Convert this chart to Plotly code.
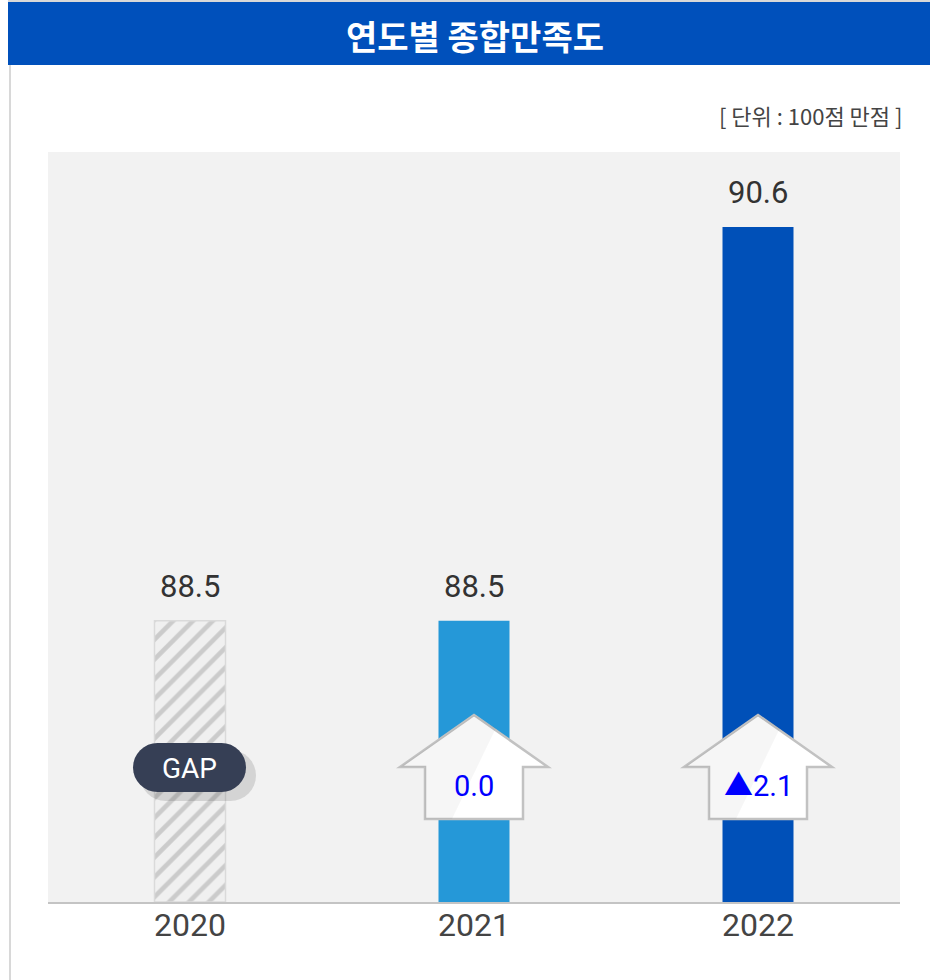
import math
import plotly.graph_objects as go

years = ["2020", "2021", "2022"]
scores = [88.5, 88.5, 90.6]
changes = [None, "0.0", "▲2.1"]
bar_colors = ["#f0f0f0", "#2598d8", "#0050b8"]

W, H = 930, 980
L, R, T, B = 48, 30, 152, 78
PW = W - L - R
PH = H - T - B
Y0, Y1 = 87, 91
x_idx = list(range(len(years)))
NUMFONT = "Roboto, Noto Sans CJK KR"

def px2x(px):
    return -0.5 + (px - L) / PW * 3

def py2y(py):
    return Y0 + (T + PH - py) / PH * (Y1 - Y0)

def dx(p):
    return p / PW * 3

def dy(p):
    return p / PH * (Y1 - Y0)

def ppx(px):
    return (px - L) / PW

def ppy(py):
    return (T + PH - py) / PH

fig = go.Figure()

# 2020 hatched bar (own trace so pattern colours are scalar)
fig.add_trace(go.Bar(
    x=x_idx[:1], y=[scores[0] - Y0], base=Y0, width=0.25,
    marker=dict(
        color=bar_colors[0],
        line=dict(color="#dadada", width=1.5),
        pattern=dict(shape="/", fgcolor="#cbcbcb", bgcolor="#f0f0f0",
                     fgopacity=1, size=14, solidity=0.33),
    ),
    hoverinfo="skip", showlegend=False,
))
# 2021, 2022 solid bars
fig.add_trace(go.Bar(
    x=x_idx[1:], y=[s - Y0 for s in scores[1:]], base=Y0, width=0.25,
    marker=dict(color=bar_colors[1:], line=dict(width=0)),
    hoverinfo="skip", showlegend=False,
))

shapes = []
annotations = []

# value labels above bars
for i, s in enumerate(scores):
    annotations.append(dict(x=i, y=s, xref="x", yref="y", text=f"{s:.1f}",
                            showarrow=False, yanchor="bottom", yshift=14,
                            font=dict(size=31, color="#333333", family=NUMFONT)))

# year labels under axis
for i, yr in enumerate(years):
    annotations.append(dict(x=i, y=ppy(925), xref="x", yref="paper", text=yr,
                            showarrow=False, yanchor="middle",
                            font=dict(size=32, color="#444444", family=NUMFONT)))

# title bar
shapes.append(dict(type="rect", xref="paper", yref="paper",
                   x0=ppx(8), x1=ppx(930), y0=ppy(65), y1=ppy(2),
                   fillcolor="#0050bb", line=dict(width=0), layer="above"))
shapes.append(dict(type="line", xref="paper", yref="paper",
                   x0=ppx(8), x1=ppx(930), y0=ppy(1), y1=ppy(1),
                   line=dict(color="#d8d8d8", width=2)))
# left border
shapes.append(dict(type="line", xref="paper", yref="paper",
                   x0=ppx(10), x1=ppx(10), y0=ppy(980), y1=ppy(65),
                   line=dict(color="#d8d8d8", width=2)))

# arrows (house shape) for change boxes
for i, ch in enumerate(changes):
    if ch is None:
        continue
    cx = i
    tip = py2y(715)
    sh = py2y(767)
    bot = py2y(819)
    lw, bw = dx(74), dx(49)
    path = (f"M {cx} {tip} L {cx + lw} {sh} L {cx + bw} {sh} L {cx + bw} {bot} "
            f"L {cx - bw} {bot} L {cx - bw} {sh} L {cx - lw} {sh} Z")
    shapes.append(dict(type="path", xref="x", yref="y", path=path,
                       fillcolor="#ffffff", line=dict(color="#c2c2c2", width=2.5),
                       layer="above"))
    gl = (f"M {cx} {tip} L {cx + dx(22)} {tip - dy(13)} L {cx - dx(22)} {bot} "
          f"L {cx - bw} {bot} L {cx - bw} {sh} L {cx - lw} {sh} Z")
    shapes.append(dict(type="path", xref="x", yref="y", path=gl,
                       fillcolor="rgba(0,0,0,0.035)", line=dict(width=0),
                       layer="above"))
    annotations.append(dict(x=cx, y=py2y(786), xref="x", yref="y", text=ch,
                            showarrow=False, yanchor="middle",
                            font=dict(size=29, color="#0000ff", family=NUMFONT)))

# GAP pill with shadow
def pill(x0p, x1p, y0p, y1p, n=16):
    r = (y1p - y0p) / 2
    cyp = (y0p + y1p) / 2
    pts = []
    for k in range(n + 1):
        a = -math.pi / 2 + math.pi * k / n
        pts.append((x1p - r + r * math.cos(a), cyp + r * math.sin(a)))
    for k in range(n + 1):
        a = math.pi / 2 + math.pi * k / n
        pts.append((x0p + r + r * math.cos(a), cyp + r * math.sin(a)))
    d = "M " + " L ".join(f"{px2x(a)} {py2y(b)}" for a, b in pts) + " Z"
    return d

shapes.append(dict(type="path", xref="x", yref="y", path=pill(140, 256, 750, 801),
                   fillcolor="rgba(0,0,0,0.12)", line=dict(width=0), layer="above"))
shapes.append(dict(type="path", xref="x", yref="y", path=pill(133, 246, 743, 792),
                   fillcolor="#363f55", line=dict(width=0), layer="above"))
annotations.append(dict(x=px2x(189.5), y=py2y(768), xref="x", yref="y", text="GAP",
                        showarrow=False, yanchor="middle",
                        font=dict(size=28, color="#ffffff", family=NUMFONT)))

# title text
annotations.append(dict(xref="paper", yref="paper", x=ppx(475), y=ppy(35),
                        xanchor="center", yanchor="middle",
                        text="<b>연도별 종합만족도</b>", showarrow=False,
                        font=dict(size=34, color="#ffffff", family="Noto Sans CJK KR")))
# unit text
annotations.append(dict(xref="paper", yref="paper", x=ppx(904), y=ppy(115),
                        xanchor="right", yanchor="middle",
                        text="[ 단위 : 100점 만점 ]", showarrow=False,
                        font=dict(size=22, color="#444444", family="Noto Sans CJK KR")))

fig.update_layout(
    width=W, height=H,
    margin=dict(l=L, r=R, t=T, b=B),
    paper_bgcolor="#ffffff", plot_bgcolor="#f2f2f2",
    barmode="overlay",
    shapes=shapes, annotations=annotations,
    xaxis=dict(range=[-0.5, 2.5], tickvals=x_idx, showticklabels=False, showgrid=False,
               zeroline=False, showline=True, linecolor="#c4c4c4", linewidth=2,
               ticks="", fixedrange=True),
    yaxis=dict(range=[Y0, Y1], showgrid=False, zeroline=False, showticklabels=False,
               showline=False, fixedrange=True),
)

fig.write_html("out.html")
